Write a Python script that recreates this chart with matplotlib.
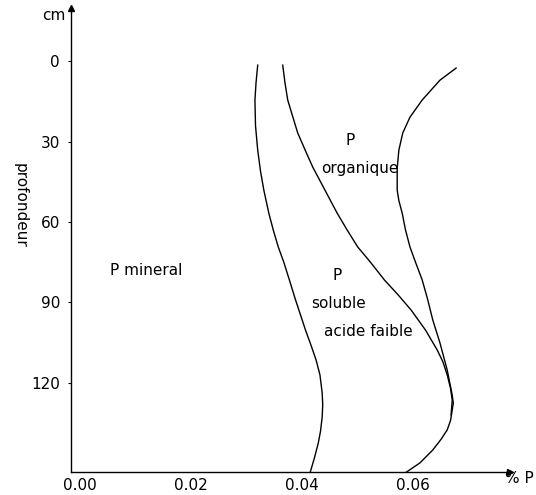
import matplotlib
matplotlib.use("Agg")
import matplotlib.pyplot as plt

# Curve A: limit between P mineral and P soluble acide faible
depth_a = [1.5, 8.0, 14.5, 24.0, 33.2, 41.0, 48.1, 56.7, 63.0, 69.3, 75.0, 81.6, 89.0, 96.5,
           100.3, 106.0, 111.4, 117.0, 123.7, 128.0, 132.7, 138.0, 142.4, 148.0, 153.6]
p_a = [0.0320, 0.0317, 0.0315, 0.0316, 0.0320, 0.0325, 0.0331, 0.0340, 0.0348, 0.0357, 0.0367, 0.0377, 0.0388, 0.0400,
       0.0406, 0.0416, 0.0425, 0.0432, 0.0436, 0.0437, 0.0436, 0.0433, 0.0429, 0.0422, 0.0414]

# Curve B: limit between P soluble acide faible and P organique
depth_b = [1.5, 8.0, 14.5, 20.0, 26.8, 33.0, 39.5, 48.1, 56.7, 63.0, 69.3, 75.0, 81.6, 87.0, 92.8,
           100.3, 107.7, 112.0, 117.0, 122.0, 126.4, 131.9]
p_b = [0.0365, 0.0369, 0.0374, 0.0382, 0.0392, 0.0405, 0.0419, 0.0441, 0.0463, 0.0481, 0.0500, 0.0523, 0.0548, 0.0572, 0.0596,
       0.0622, 0.0643, 0.0653, 0.0661, 0.0667, 0.0670, 0.0668]

# Curve C: total P
depth_c = [2.6, 7.1, 14.5, 20.9, 26.8, 33.2, 40.0, 48.1, 52.0, 56.7, 63.0, 69.3, 75.0, 81.6, 89.0, 96.5,
           105.1, 115.2, 124.5, 127.5, 130.1, 134.0, 137.5, 141.0, 145.0, 149.8, 153.6]
p_c = [0.0677, 0.0648, 0.0616, 0.0594, 0.0581, 0.0574, 0.0571, 0.0571, 0.0574, 0.0580, 0.0586, 0.0594, 0.0604, 0.0616, 0.0626, 0.0635,
       0.0648, 0.0661, 0.0670, 0.0672, 0.0670, 0.0667, 0.0661, 0.0650, 0.0635, 0.0612, 0.0585]

x_ticks = [0.0, 0.02, 0.04, 0.06]
x_labels = ["0.00", "0.02", "0.04", "0.06"]
y_ticks = [0, 30, 60, 90, 120]
y_labels = ["0", "30", "60", "90", "120"]

fig = plt.figure(figsize=(5.36, 4.95), dpi=100)
ax = fig.add_axes([71 / 536, 1 - 472 / 495, (510 - 71) / 536, (472 - 8) / 495])

for p, d in ((p_a, depth_a), (p_b, depth_b), (p_c, depth_c)):
    ax.plot(p, d, color="black", lw=1.0)

ax.set_xlim(-0.0016, 0.0774)
ax.set_ylim(153.2, -19.8)

for s in ("top", "right"):
    ax.spines[s].set_visible(False)
for s in ("left", "bottom"):
    ax.spines[s].set_linewidth(1.0)

ax.plot(1, 0, ">", color="black", ms=5, transform=ax.transAxes, clip_on=False)
ax.plot(0, 1, "^", color="black", ms=5, transform=ax.transAxes, clip_on=False)

ax.set_xticks(x_ticks)
ax.set_xticklabels(x_labels)
ax.set_yticks(y_ticks)
ax.set_yticklabels(y_labels)
ax.tick_params(axis="x", length=0, pad=4, labelsize=11)
ax.tick_params(axis="y", length=2, pad=6, labelsize=11)

ax.text(-0.04, 1.0, "cm", transform=ax.transAxes, fontsize=11, ha="center", va="top")
fig.text(534 / 536, 1 - 471 / 495, "% P", fontsize=11, ha="right", va="top")
fig.text(20 / 536, 1 - 205 / 495, "profondeur", rotation=-90, fontsize=11, ha="center", va="center")

ax.text(0.0120, 77.9, "P mineral", fontsize=11, ha="center", va="center")
ax.text(0.0487, 29.5, "P", fontsize=11, ha="center", va="center")
ax.text(0.0504, 39.9, "organique", fontsize=11, ha="center", va="center")
ax.text(0.0463, 79.8, "P", fontsize=11, ha="center", va="center")
ax.text(0.0466, 90.2, "soluble", fontsize=11, ha="center", va="center")
ax.text(0.0520, 101.0, "acide faible", fontsize=11, ha="center", va="center")

fig.savefig("out.png", dpi=100)
